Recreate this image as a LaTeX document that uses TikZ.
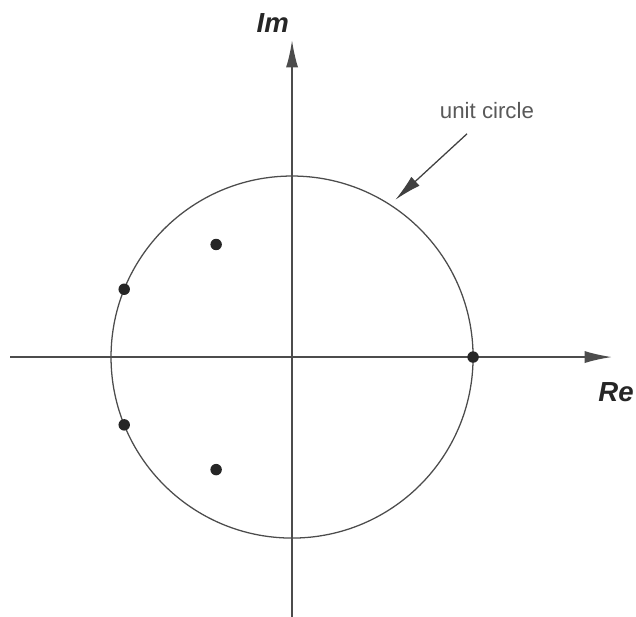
\documentclass[tikz,border=0pt]{standalone}
\usepackage{fontspec}
\setmainfont{Liberation Sans}
\usetikzlibrary{arrows.meta,positioning,calc}

\begin{document}
\begin{tikzpicture}[
    axis/.style={draw=black!70, line width=0.8pt, -{Latex[length=4.5mm,width=2mm]}},
    unitline/.style={draw=black!70, line width=0.6pt},
    pointer/.style={draw=black!75, line width=0.6pt, -{Latex[length=4.5mm,width=2mm]}},
    zero/.style={circle, fill=black!85, inner sep=0pt, minimum size=1.9mm},
    axislabel/.style={font=\fontsize{13}{15}\selectfont\bfseries\itshape, text=black!85, inner sep=0pt},
    note/.style={font=\fontsize{10.5}{12}\selectfont, text=black!65, inner sep=0pt}
]
\useasboundingbox (-4.84,-4.293) rectangle (5.70,5.917);

% axes
\coordinate (west) at (-4.67,0);
\coordinate (east) at (5.30,0);
\coordinate (south) at (0,-4.40);
\coordinate (north) at (0,5.25);
\draw[axis] (west) -- (east);
\draw[axis] (south) -- (north);
\node[axislabel] (im) at (-0.32,5.54) {Im};
\node[axislabel, anchor=west] (re) at (5.07,-0.58) {Re};

% unit circle
\coordinate (origin) at (0,0);
\draw[unitline] (origin) circle (3);
\node[note] (label) at (3.23,4.08) {unit circle};
\coordinate (tail) at (2.90,3.70);
\coordinate (head) at (56.7:3.12);
\draw[pointer] (tail) -- (head);

% zeros
\node[zero] (z1) at (0:3) {};
\node[zero] (z2) at (158:3) {};
\node[zero] (z3) at (-158:3) {};
\node[zero] (z4) at (124:2.25) {};
\node[zero] (z5) at (-124:2.25) {};

\end{tikzpicture}
\end{document}
